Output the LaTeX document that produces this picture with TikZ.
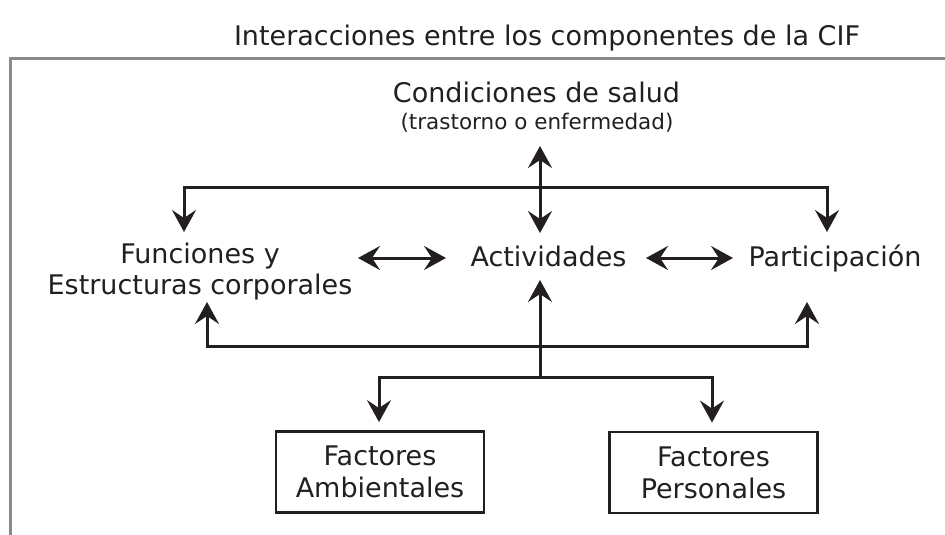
\documentclass[tikz,border=0pt]{standalone}
\usepackage{fontspec}
\setmainfont{DejaVu Sans}
\usetikzlibrary{arrows.meta}

\definecolor{ink}{HTML}{231F20}
\definecolor{framegray}{HTML}{8A8A8A}

\tikzset{
  comp/.style={text=ink, font=\fontsize{27}{31}\selectfont, inner sep=0pt, anchor=base},
  factor/.style={draw=ink, line width=2.8pt, text=ink, font=\fontsize{27}{32}\selectfont,
    align=center, minimum width=208pt, minimum height=81pt, inner sep=0pt},
  link/.style={draw=ink, line width=3pt},
  tip/.style={arrows={Stealth[length=22pt,width=24pt,inset=8pt]-Stealth[length=22pt,width=24pt,inset=8pt]}},
  onetip/.style={arrows={-Stealth[length=22pt,width=24pt,inset=8pt]}}
}

\begin{document}
\begin{tikzpicture}[x=1pt,y=-1pt]
  \useasboundingbox (0,0) rectangle (945,535);

  % frame
  \draw[framegray, line width=3pt] (945,59) -- (10,59) -- (10,535);

  % texts
  \node[comp] (title) at (547,46)
      {Interacciones entre los componentes de la CIF};
  \node[comp] (cond) at (536.5,102) {Condiciones de salud};
  \node[comp, font=\fontsize{21.5}{25}\selectfont] (sub) at (537,129)
      {(trastorno o enfermedad)};
  \node[comp, align=center] (func) at (200,294)
      {Funciones y\\Estructuras corporales};
  \node[comp] (act) at (548.5,266) {Actividades};
  \node[comp] (part) at (835,266) {Participación};

  \node[factor] (amb) at (380,472) {Factores\\Ambientales};
  \node[factor] (pers) at (713.5,472.5) {Factores\\Personales};

  % junctions
  \coordinate (condlow) at (540,146);
  \coordinate (actup) at (540,233);
  \coordinate (actlow) at (540,280);
  \coordinate (split) at (540,377);
  \coordinate (funcup) at (184,232);
  \coordinate (partup) at (827,232);
  \coordinate (funclow) at (207,302);
  \coordinate (partlow) at (807,302);

  % connectors
  \draw[link,tip] (condlow) -- (actup);
  \draw[link,tip] (funcup) -- (184,187) -- (827,187) -- (partup);
  \draw[link,tip] (funclow) -- (207,346) -- (807,346) -- (partlow);
  \draw[link,onetip] (split) -- (actlow);
  \draw[link,tip] ([yshift=8pt]amb.north -| 379,0) -- (379,377) -- (712,377) -- ([yshift=8pt]pers.north -| 712,0);
  \draw[link,tip] (358,258) -- (446,258);
  \draw[link,tip] (646,258) -- (733,258);
\end{tikzpicture}
\end{document}
